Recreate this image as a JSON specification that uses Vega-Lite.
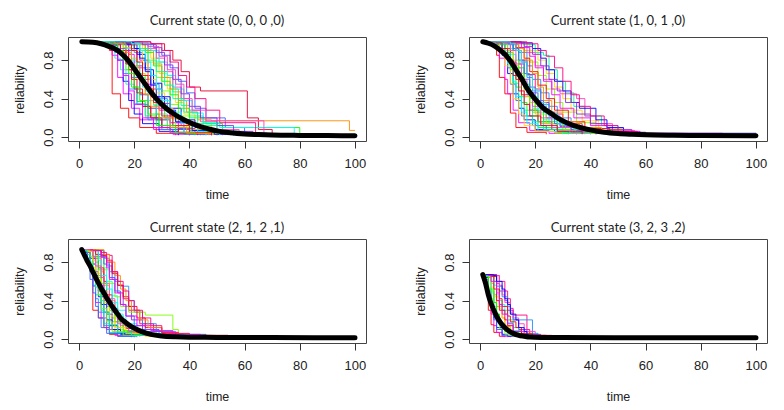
{
"$schema": "https://vega.github.io/schema/vega-lite/v6.json",
"padding": {"left": 12, "top": 14, "right": 0, "bottom": 0},
"background": "white",
"columns": 2,
"spacing": {"row": 20, "column": 46},
"config": {
  "font": "Liberation Sans",
  "view": {"stroke": "#444", "strokeWidth": 1},
  "axis": {"domain": false, "grid": false, "tickColor": "#333", "tickSize": 7, "labelFont": "Liberation Sans", "labelFontSize": 13, "labelColor": "#222", "titleFont": "Liberation Sans", "titleFontSize": 12.5, "titleFontWeight": "normal", "titleColor": "#222"},
  "axisX": {"labelPadding": 9, "titlePadding": 18, "labelFlush": false},
  "axisY": {"labelPadding": 6, "titlePadding": 16, "labelAngle": -90, "labelAlign": "center", "labelBaseline": "bottom"},
  "title": {"font": "Lato", "fontSize": 13, "fontWeight": "normal", "color": "#222", "offset": 4},
  "line": {"clip": true}
},
"datasets": {
"a": [
{"s":1,"t":1,"r":0.99},{"s":1,"t":9,"r":0.96},{"s":1,"t":11,"r":0.9},{"s":1,"t":12,"r":0.45},{"s":1,"t":15,"r":0.3},{"s":1,"t":18,"r":0.2},{"s":1,"t":22,"r":0.1},{"s":1,"t":28,"r":0.04},{"s":1,"t":35,"r":0.02},
{"s":2,"t":1,"r":0.99},{"s":2,"t":8,"r":0.97},{"s":2,"t":12,"r":0.85},{"s":2,"t":14,"r":0.62},{"s":2,"t":16,"r":0.45},{"s":2,"t":19,"r":0.3},{"s":2,"t":22,"r":0.18},{"s":2,"t":27,"r":0.08},{"s":2,"t":34,"r":0.03},{"s":2,"t":40,"r":0.02},
{"s":3,"t":1,"r":0.99},{"s":3,"t":10,"r":0.95},{"s":3,"t":14,"r":0.8},{"s":3,"t":16,"r":0.58},{"s":3,"t":18,"r":0.38},{"s":3,"t":20,"r":0.24},{"s":3,"t":23,"r":0.14},{"s":3,"t":29,"r":0.06},{"s":3,"t":36,"r":0.02},
{"s":4,"t":1,"r":0.99},{"s":4,"t":11,"r":0.96},{"s":4,"t":15,"r":0.86},{"s":4,"t":17,"r":0.7},{"s":4,"t":19,"r":0.52},{"s":4,"t":21,"r":0.37},{"s":4,"t":24,"r":0.22},{"s":4,"t":28,"r":0.12},{"s":4,"t":33,"r":0.05},{"s":4,"t":40,"r":0.02},
{"s":5,"t":1,"r":0.99},{"s":5,"t":12,"r":0.97},{"s":5,"t":16,"r":0.88},{"s":5,"t":18,"r":0.75},{"s":5,"t":20,"r":0.6},{"s":5,"t":22,"r":0.45},{"s":5,"t":25,"r":0.3},{"s":5,"t":28,"r":0.18},{"s":5,"t":32,"r":0.08},{"s":5,"t":38,"r":0.03},{"s":5,"t":45,"r":0.02},
{"s":6,"t":1,"r":0.99},{"s":6,"t":13,"r":0.96},{"s":6,"t":17,"r":0.9},{"s":6,"t":19,"r":0.78},{"s":6,"t":22,"r":0.62},{"s":6,"t":24,"r":0.48},{"s":6,"t":27,"r":0.33},{"s":6,"t":30,"r":0.2},{"s":6,"t":34,"r":0.1},{"s":6,"t":40,"r":0.04},{"s":6,"t":48,"r":0.02},
{"s":7,"t":1,"r":0.99},{"s":7,"t":14,"r":0.97},{"s":7,"t":18,"r":0.9},{"s":7,"t":21,"r":0.74},{"s":7,"t":23,"r":0.6},{"s":7,"t":26,"r":0.44},{"s":7,"t":28,"r":0.3},{"s":7,"t":31,"r":0.2},{"s":7,"t":36,"r":0.09},{"s":7,"t":42,"r":0.04},{"s":7,"t":50,"r":0.02},
{"s":8,"t":1,"r":0.99},{"s":8,"t":15,"r":0.97},{"s":8,"t":19,"r":0.92},{"s":8,"t":22,"r":0.8},{"s":8,"t":25,"r":0.64},{"s":8,"t":27,"r":0.5},{"s":8,"t":30,"r":0.35},{"s":8,"t":33,"r":0.22},{"s":8,"t":37,"r":0.12},{"s":8,"t":43,"r":0.05},{"s":8,"t":52,"r":0.02},
{"s":9,"t":1,"r":0.99},{"s":9,"t":16,"r":0.96},{"s":9,"t":20,"r":0.88},{"s":9,"t":23,"r":0.72},{"s":9,"t":26,"r":0.55},{"s":9,"t":29,"r":0.4},{"s":9,"t":32,"r":0.26},{"s":9,"t":35,"r":0.15},{"s":9,"t":40,"r":0.07},{"s":9,"t":47,"r":0.03},{"s":9,"t":55,"r":0.02},
{"s":10,"t":1,"r":0.99},{"s":10,"t":17,"r":0.97},{"s":10,"t":22,"r":0.9},{"s":10,"t":25,"r":0.78},{"s":10,"t":28,"r":0.62},{"s":10,"t":30,"r":0.48},{"s":10,"t":33,"r":0.34},{"s":10,"t":36,"r":0.22},{"s":10,"t":40,"r":0.12},{"s":10,"t":46,"r":0.05},{"s":10,"t":53,"r":0.02},
{"s":11,"t":1,"r":0.99},{"s":11,"t":18,"r":0.97},{"s":11,"t":23,"r":0.92},{"s":11,"t":26,"r":0.82},{"s":11,"t":29,"r":0.66},{"s":11,"t":32,"r":0.5},{"s":11,"t":35,"r":0.36},{"s":11,"t":38,"r":0.24},{"s":11,"t":42,"r":0.14},{"s":11,"t":48,"r":0.06},{"s":11,"t":56,"r":0.02},
{"s":12,"t":1,"r":0.99},{"s":12,"t":20,"r":0.97},{"s":12,"t":25,"r":0.9},{"s":12,"t":28,"r":0.78},{"s":12,"t":31,"r":0.62},{"s":12,"t":34,"r":0.47},{"s":12,"t":37,"r":0.33},{"s":12,"t":40,"r":0.22},{"s":12,"t":45,"r":0.12},{"s":12,"t":52,"r":0.05},{"s":12,"t":60,"r":0.02},
{"s":13,"t":1,"r":0.99},{"s":13,"t":20,"r":0.97},{"s":13,"t":25,"r":0.92},{"s":13,"t":28,"r":0.82},{"s":13,"t":31,"r":0.68},{"s":13,"t":34,"r":0.52},{"s":13,"t":37,"r":0.4},{"s":13,"t":40,"r":0.28},{"s":13,"t":44,"r":0.16},{"s":13,"t":50,"r":0.08},{"s":13,"t":58,"r":0.03},{"s":13,"t":64,"r":0.02},
{"s":14,"t":1,"r":0.99},{"s":14,"t":22,"r":0.97},{"s":14,"t":27,"r":0.93},{"s":14,"t":30,"r":0.85},{"s":14,"t":33,"r":0.72},{"s":14,"t":36,"r":0.58},{"s":14,"t":39,"r":0.46},{"s":14,"t":42,"r":0.3},{"s":14,"t":46,"r":0.2},{"s":14,"t":53,"r":0.1},{"s":14,"t":60,"r":0.04},{"s":14,"t":68,"r":0.02},
{"s":15,"t":1,"r":0.99},{"s":15,"t":26,"r":0.97},{"s":15,"t":31,"r":0.9},{"s":15,"t":34,"r":0.8},{"s":15,"t":37,"r":0.68},{"s":15,"t":40,"r":0.52},{"s":15,"t":44,"r":0.48},{"s":15,"t":61,"r":0.2},{"s":15,"t":65,"r":0.08},{"s":15,"t":70,"r":0.03},{"s":15,"t":72,"r":0.03},
{"s":16,"t":1,"r":0.99},{"s":16,"t":8,"r":0.97},{"s":16,"t":13,"r":0.82},{"s":16,"t":15,"r":0.7},{"s":16,"t":17,"r":0.55},{"s":16,"t":20,"r":0.35},{"s":16,"t":24,"r":0.2},{"s":16,"t":29,"r":0.1},{"s":16,"t":35,"r":0.04},{"s":16,"t":42,"r":0.02},
{"s":17,"t":1,"r":0.99},{"s":17,"t":12,"r":0.96},{"s":17,"t":15,"r":0.9},{"s":17,"t":18,"r":0.7},{"s":17,"t":20,"r":0.5},{"s":17,"t":23,"r":0.32},{"s":17,"t":26,"r":0.2},{"s":17,"t":30,"r":0.1},{"s":17,"t":36,"r":0.05},{"s":17,"t":44,"r":0.02},
{"s":18,"t":1,"r":0.99},{"s":18,"t":14,"r":0.97},{"s":18,"t":18,"r":0.86},{"s":18,"t":20,"r":0.72},{"s":18,"t":23,"r":0.55},{"s":18,"t":26,"r":0.42},{"s":18,"t":29,"r":0.28},{"s":18,"t":33,"r":0.15},{"s":18,"t":38,"r":0.08},{"s":18,"t":45,"r":0.03},{"s":18,"t":54,"r":0.02},
{"s":19,"t":1,"r":0.99},{"s":19,"t":17,"r":0.96},{"s":19,"t":21,"r":0.86},{"s":19,"t":24,"r":0.7},{"s":19,"t":27,"r":0.56},{"s":19,"t":30,"r":0.42},{"s":19,"t":33,"r":0.3},{"s":19,"t":37,"r":0.18},{"s":19,"t":42,"r":0.1},{"s":19,"t":48,"r":0.05},{"s":19,"t":57,"r":0.02},
{"s":20,"t":1,"r":0.99},{"s":20,"t":19,"r":0.97},{"s":20,"t":24,"r":0.88},{"s":20,"t":27,"r":0.74},{"s":20,"t":30,"r":0.58},{"s":20,"t":33,"r":0.44},{"s":20,"t":36,"r":0.3},{"s":20,"t":40,"r":0.2},{"s":20,"t":46,"r":0.14},{"s":20,"t":52,"r":0.1},{"s":20,"t":80,"r":0.02},{"s":20,"t":82,"r":0.02},
{"s":21,"t":1,"r":0.99},{"s":21,"t":19,"r":0.96},{"s":21,"t":24,"r":0.9},{"s":21,"t":27,"r":0.76},{"s":21,"t":30,"r":0.62},{"s":21,"t":33,"r":0.5},{"s":21,"t":36,"r":0.38},{"s":21,"t":39,"r":0.26},{"s":21,"t":43,"r":0.18},{"s":21,"t":48,"r":0.17},{"s":21,"t":98,"r":0.07},{"s":21,"t":100,"r":0.07},
{"s":22,"t":1,"r":0.99},{"s":22,"t":21,"r":0.97},{"s":22,"t":26,"r":0.9},{"s":22,"t":29,"r":0.78},{"s":22,"t":32,"r":0.64},{"s":22,"t":35,"r":0.5},{"s":22,"t":38,"r":0.38},{"s":22,"t":41,"r":0.25},{"s":22,"t":45,"r":0.15},{"s":22,"t":51,"r":0.1},{"s":22,"t":78,"r":0.02},{"s":22,"t":79,"r":0.02},
{"s":23,"t":1,"r":0.99},{"s":23,"t":23,"r":0.96},{"s":23,"t":28,"r":0.88},{"s":23,"t":31,"r":0.75},{"s":23,"t":34,"r":0.6},{"s":23,"t":37,"r":0.45},{"s":23,"t":40,"r":0.32},{"s":23,"t":44,"r":0.2},{"s":23,"t":50,"r":0.12},{"s":23,"t":56,"r":0.06},{"s":23,"t":63,"r":0.02},
{"s":24,"t":1,"r":0.99},{"s":24,"t":26,"r":0.97},{"s":24,"t":30,"r":0.9},{"s":24,"t":33,"r":0.78},{"s":24,"t":36,"r":0.64},{"s":24,"t":39,"r":0.52},{"s":24,"t":42,"r":0.4},{"s":24,"t":46,"r":0.28},{"s":24,"t":51,"r":0.15},{"s":24,"t":64,"r":0.03},{"s":24,"t":66,"r":0.02},
{"s":25,"t":1,"r":0.99},{"s":25,"t":10,"r":0.97},{"s":25,"t":13,"r":0.88},{"s":25,"t":16,"r":0.66},{"s":25,"t":18,"r":0.5},{"s":25,"t":21,"r":0.34},{"s":25,"t":25,"r":0.18},{"s":25,"t":30,"r":0.08},{"s":25,"t":38,"r":0.03},{"s":25,"t":46,"r":0.02},
{"s":26,"t":1,"r":0.99},{"s":26,"t":13,"r":0.98},{"s":26,"t":16,"r":0.93},{"s":26,"t":19,"r":0.82},{"s":26,"t":21,"r":0.66},{"s":26,"t":24,"r":0.5},{"s":26,"t":27,"r":0.34},{"s":26,"t":31,"r":0.2},{"s":26,"t":35,"r":0.1},{"s":26,"t":41,"r":0.04},{"s":26,"t":50,"r":0.02},
{"s":27,"t":1,"r":0.99},{"s":27,"t":15,"r":0.98},{"s":27,"t":20,"r":0.9},{"s":27,"t":23,"r":0.76},{"s":27,"t":25,"r":0.6},{"s":27,"t":28,"r":0.46},{"s":27,"t":31,"r":0.3},{"s":27,"t":34,"r":0.18},{"s":27,"t":39,"r":0.08},{"s":27,"t":46,"r":0.03},{"s":27,"t":55,"r":0.02},
{"s":28,"t":1,"r":0.99},{"s":28,"t":18,"r":0.98},{"s":28,"t":22,"r":0.92},{"s":28,"t":25,"r":0.8},{"s":28,"t":28,"r":0.68},{"s":28,"t":31,"r":0.54},{"s":28,"t":34,"r":0.4},{"s":28,"t":38,"r":0.26},{"s":28,"t":43,"r":0.14},{"s":28,"t":50,"r":0.06},{"s":28,"t":58,"r":0.02},
{"s":29,"t":1,"r":0.99},{"s":29,"t":20,"r":0.98},{"s":29,"t":25,"r":0.94},{"s":29,"t":29,"r":0.84},{"s":29,"t":32,"r":0.7},{"s":29,"t":35,"r":0.55},{"s":29,"t":38,"r":0.4},{"s":29,"t":41,"r":0.28},{"s":29,"t":46,"r":0.17},{"s":29,"t":67,"r":0.03},{"s":29,"t":72,"r":0.02},
{"s":30,"t":1,"r":0.99},{"s":30,"t":11,"r":0.98},{"s":30,"t":14,"r":0.92},{"s":30,"t":17,"r":0.78},{"s":30,"t":19,"r":0.62},{"s":30,"t":22,"r":0.44},{"s":30,"t":25,"r":0.3},{"s":30,"t":28,"r":0.18},{"s":30,"t":33,"r":0.08},{"s":30,"t":40,"r":0.03},{"s":30,"t":48,"r":0.02},
{"s":31,"t":1,"r":0.99},{"s":31,"t":12,"r":0.97},{"s":31,"t":15,"r":0.9},{"s":31,"t":17,"r":0.76},{"s":31,"t":19,"r":0.6},{"s":31,"t":21,"r":0.46},{"s":31,"t":23,"r":0.32},{"s":31,"t":26,"r":0.2},{"s":31,"t":30,"r":0.1},{"s":31,"t":36,"r":0.04},{"s":31,"t":43,"r":0.02},
{"s":32,"t":1,"r":0.99},{"s":32,"t":14,"r":0.98},{"s":32,"t":17,"r":0.92},{"s":32,"t":19,"r":0.8},{"s":32,"t":21,"r":0.66},{"s":32,"t":23,"r":0.52},{"s":32,"t":25,"r":0.38},{"s":32,"t":28,"r":0.24},{"s":32,"t":32,"r":0.12},{"s":32,"t":38,"r":0.05},{"s":32,"t":46,"r":0.02},
{"s":33,"t":1,"r":0.99},{"s":33,"t":16,"r":0.97},{"s":33,"t":19,"r":0.9},{"s":33,"t":21,"r":0.78},{"s":33,"t":23,"r":0.64},{"s":33,"t":25,"r":0.5},{"s":33,"t":27,"r":0.36},{"s":33,"t":30,"r":0.22},{"s":33,"t":34,"r":0.12},{"s":33,"t":40,"r":0.05},{"s":33,"t":48,"r":0.02},
{"s":34,"t":1,"r":0.99},{"s":34,"t":9,"r":0.98},{"s":34,"t":12,"r":0.92},{"s":34,"t":14,"r":0.8},{"s":34,"t":16,"r":0.64},{"s":34,"t":18,"r":0.48},{"s":34,"t":20,"r":0.34},{"s":34,"t":23,"r":0.2},{"s":34,"t":27,"r":0.1},{"s":34,"t":33,"r":0.04},{"s":34,"t":40,"r":0.02},
{"s":35,"t":1,"r":0.99},{"s":35,"t":17,"r":0.98},{"s":35,"t":20,"r":0.92},{"s":35,"t":22,"r":0.82},{"s":35,"t":24,"r":0.68},{"s":35,"t":26,"r":0.54},{"s":35,"t":28,"r":0.42},{"s":35,"t":31,"r":0.28},{"s":35,"t":35,"r":0.16},{"s":35,"t":41,"r":0.07},{"s":35,"t":49,"r":0.03},{"s":35,"t":56,"r":0.02},
{"s":36,"t":1,"r":0.99},{"s":36,"t":11,"r":0.97},{"s":36,"t":14,"r":0.9},{"s":36,"t":16,"r":0.8},{"s":36,"t":18,"r":0.66},{"s":36,"t":20,"r":0.52},{"s":36,"t":22,"r":0.38},{"s":36,"t":25,"r":0.24},{"s":36,"t":29,"r":0.12},{"s":36,"t":35,"r":0.05},{"s":36,"t":42,"r":0.02},
{"s":37,"t":1,"r":0.99},{"s":37,"t":13,"r":0.97},{"s":37,"t":17,"r":0.88},{"s":37,"t":19,"r":0.74},{"s":37,"t":22,"r":0.58},{"s":37,"t":24,"r":0.44},{"s":37,"t":26,"r":0.32},{"s":37,"t":29,"r":0.2},{"s":37,"t":33,"r":0.1},{"s":37,"t":39,"r":0.04},{"s":37,"t":47,"r":0.02},
{"s":38,"t":1,"r":0.99},{"s":38,"t":19,"r":0.97},{"s":38,"t":22,"r":0.9},{"s":38,"t":24,"r":0.78},{"s":38,"t":26,"r":0.64},{"s":38,"t":28,"r":0.5},{"s":38,"t":30,"r":0.38},{"s":38,"t":33,"r":0.26},{"s":38,"t":37,"r":0.14},{"s":38,"t":43,"r":0.06},{"s":38,"t":51,"r":0.02}
],
"b": [
{"s":1,"t":1,"r":0.99},{"s":1,"t":4,"r":0.95},{"s":1,"t":6,"r":0.85},{"s":1,"t":7,"r":0.62},{"s":1,"t":9,"r":0.45},{"s":1,"t":11,"r":0.25},{"s":1,"t":13,"r":0.1},{"s":1,"t":17,"r":0.05},{"s":1,"t":24,"r":0.03},
{"s":2,"t":1,"r":0.99},{"s":2,"t":5,"r":0.96},{"s":2,"t":7,"r":0.82},{"s":2,"t":9,"r":0.6},{"s":2,"t":10,"r":0.45},{"s":2,"t":12,"r":0.28},{"s":2,"t":14,"r":0.15},{"s":2,"t":18,"r":0.07},{"s":2,"t":25,"r":0.04},{"s":2,"t":32,"r":0.03},
{"s":3,"t":1,"r":0.99},{"s":3,"t":6,"r":0.97},{"s":3,"t":8,"r":0.85},{"s":3,"t":10,"r":0.66},{"s":3,"t":12,"r":0.45},{"s":3,"t":14,"r":0.3},{"s":3,"t":16,"r":0.18},{"s":3,"t":20,"r":0.08},{"s":3,"t":27,"r":0.04},{"s":3,"t":35,"r":0.03},
{"s":4,"t":1,"r":0.99},{"s":4,"t":6,"r":0.96},{"s":4,"t":9,"r":0.86},{"s":4,"t":11,"r":0.7},{"s":4,"t":13,"r":0.52},{"s":4,"t":15,"r":0.36},{"s":4,"t":17,"r":0.22},{"s":4,"t":21,"r":0.1},{"s":4,"t":28,"r":0.05},{"s":4,"t":38,"r":0.03},
{"s":5,"t":1,"r":0.99},{"s":5,"t":7,"r":0.97},{"s":5,"t":10,"r":0.88},{"s":5,"t":12,"r":0.74},{"s":5,"t":14,"r":0.58},{"s":5,"t":16,"r":0.42},{"s":5,"t":19,"r":0.26},{"s":5,"t":22,"r":0.14},{"s":5,"t":28,"r":0.07},{"s":5,"t":36,"r":0.04},{"s":5,"t":45,"r":0.03},
{"s":6,"t":1,"r":0.99},{"s":6,"t":8,"r":0.96},{"s":6,"t":11,"r":0.86},{"s":6,"t":13,"r":0.72},{"s":6,"t":15,"r":0.58},{"s":6,"t":17,"r":0.44},{"s":6,"t":19,"r":0.3},{"s":6,"t":23,"r":0.18},{"s":6,"t":28,"r":0.1},{"s":6,"t":35,"r":0.05},{"s":6,"t":44,"r":0.03},
{"s":7,"t":1,"r":0.99},{"s":7,"t":9,"r":0.97},{"s":7,"t":12,"r":0.9},{"s":7,"t":14,"r":0.76},{"s":7,"t":16,"r":0.6},{"s":7,"t":18,"r":0.46},{"s":7,"t":21,"r":0.32},{"s":7,"t":24,"r":0.2},{"s":7,"t":29,"r":0.11},{"s":7,"t":36,"r":0.06},{"s":7,"t":48,"r":0.03},
{"s":8,"t":1,"r":0.99},{"s":8,"t":10,"r":0.97},{"s":8,"t":13,"r":0.9},{"s":8,"t":15,"r":0.8},{"s":8,"t":17,"r":0.65},{"s":8,"t":20,"r":0.5},{"s":8,"t":22,"r":0.36},{"s":8,"t":25,"r":0.24},{"s":8,"t":30,"r":0.14},{"s":8,"t":37,"r":0.07},{"s":8,"t":46,"r":0.04},{"s":8,"t":55,"r":0.03},
{"s":9,"t":1,"r":0.99},{"s":9,"t":11,"r":0.96},{"s":9,"t":14,"r":0.88},{"s":9,"t":17,"r":0.74},{"s":9,"t":19,"r":0.6},{"s":9,"t":22,"r":0.46},{"s":9,"t":25,"r":0.32},{"s":9,"t":28,"r":0.2},{"s":9,"t":33,"r":0.1},{"s":9,"t":40,"r":0.05},{"s":9,"t":52,"r":0.03},
{"s":10,"t":1,"r":0.99},{"s":10,"t":12,"r":0.97},{"s":10,"t":16,"r":0.9},{"s":10,"t":18,"r":0.78},{"s":10,"t":21,"r":0.64},{"s":10,"t":24,"r":0.5},{"s":10,"t":27,"r":0.36},{"s":10,"t":30,"r":0.26},{"s":10,"t":35,"r":0.15},{"s":10,"t":42,"r":0.07},{"s":10,"t":50,"r":0.04},{"s":10,"t":60,"r":0.03},
{"s":11,"t":1,"r":0.99},{"s":11,"t":14,"r":0.97},{"s":11,"t":18,"r":0.9},{"s":11,"t":21,"r":0.8},{"s":11,"t":24,"r":0.66},{"s":11,"t":27,"r":0.52},{"s":11,"t":30,"r":0.4},{"s":11,"t":33,"r":0.28},{"s":11,"t":37,"r":0.17},{"s":11,"t":43,"r":0.09},{"s":11,"t":52,"r":0.05},{"s":11,"t":60,"r":0.03},
{"s":12,"t":1,"r":0.99},{"s":12,"t":16,"r":0.96},{"s":12,"t":20,"r":0.88},{"s":12,"t":23,"r":0.85},{"s":12,"t":25,"r":0.7},{"s":12,"t":28,"r":0.58},{"s":12,"t":31,"r":0.46},{"s":12,"t":34,"r":0.32},{"s":12,"t":38,"r":0.22},{"s":12,"t":44,"r":0.12},{"s":12,"t":50,"r":0.06},{"s":12,"t":57,"r":0.04},
{"s":13,"t":1,"r":0.99},{"s":13,"t":13,"r":0.97},{"s":13,"t":17,"r":0.88},{"s":13,"t":20,"r":0.74},{"s":13,"t":23,"r":0.6},{"s":13,"t":26,"r":0.5},{"s":13,"t":29,"r":0.45},{"s":13,"t":35,"r":0.4},{"s":13,"t":38,"r":0.22},{"s":13,"t":42,"r":0.14},{"s":13,"t":48,"r":0.07},{"s":13,"t":56,"r":0.04},
{"s":14,"t":1,"r":0.99},{"s":14,"t":5,"r":0.97},{"s":14,"t":8,"r":0.88},{"s":14,"t":10,"r":0.72},{"s":14,"t":11,"r":0.55},{"s":14,"t":13,"r":0.38},{"s":14,"t":15,"r":0.22},{"s":14,"t":19,"r":0.12},{"s":14,"t":24,"r":0.06},{"s":14,"t":32,"r":0.04},{"s":14,"t":40,"r":0.03},
{"s":15,"t":1,"r":0.99},{"s":15,"t":7,"r":0.98},{"s":15,"t":9,"r":0.92},{"s":15,"t":11,"r":0.78},{"s":15,"t":13,"r":0.6},{"s":15,"t":15,"r":0.44},{"s":15,"t":18,"r":0.28},{"s":15,"t":21,"r":0.16},{"s":15,"t":26,"r":0.08},{"s":15,"t":34,"r":0.04},{"s":15,"t":42,"r":0.03},
{"s":16,"t":1,"r":0.99},{"s":16,"t":8,"r":0.98},{"s":16,"t":11,"r":0.92},{"s":16,"t":14,"r":0.78},{"s":16,"t":16,"r":0.6},{"s":16,"t":18,"r":0.42},{"s":16,"t":21,"r":0.26},{"s":16,"t":25,"r":0.14},{"s":16,"t":31,"r":0.07},{"s":16,"t":40,"r":0.04},{"s":16,"t":100,"r":0.04},
{"s":17,"t":1,"r":0.99},{"s":17,"t":10,"r":0.98},{"s":17,"t":13,"r":0.93},{"s":17,"t":16,"r":0.82},{"s":17,"t":18,"r":0.68},{"s":17,"t":21,"r":0.54},{"s":17,"t":24,"r":0.4},{"s":17,"t":27,"r":0.28},{"s":17,"t":32,"r":0.16},{"s":17,"t":38,"r":0.09},{"s":17,"t":47,"r":0.05},{"s":17,"t":58,"r":0.03},
{"s":18,"t":1,"r":0.99},{"s":18,"t":12,"r":0.98},{"s":18,"t":15,"r":0.93},{"s":18,"t":18,"r":0.84},{"s":18,"t":20,"r":0.72},{"s":18,"t":23,"r":0.58},{"s":18,"t":26,"r":0.44},{"s":18,"t":29,"r":0.3},{"s":18,"t":34,"r":0.2},{"s":18,"t":40,"r":0.12},{"s":18,"t":48,"r":0.06},{"s":18,"t":58,"r":0.04},{"s":18,"t":88,"r":0.04},
{"s":19,"t":1,"r":0.99},{"s":19,"t":15,"r":0.98},{"s":19,"t":19,"r":0.92},{"s":19,"t":22,"r":0.82},{"s":19,"t":24,"r":0.7},{"s":19,"t":27,"r":0.58},{"s":19,"t":30,"r":0.48},{"s":19,"t":33,"r":0.36},{"s":19,"t":36,"r":0.3},{"s":19,"t":42,"r":0.18},{"s":19,"t":46,"r":0.1},{"s":19,"t":52,"r":0.05},{"s":19,"t":60,"r":0.03},
{"s":20,"t":1,"r":0.99},{"s":20,"t":9,"r":0.98},{"s":20,"t":12,"r":0.9},{"s":20,"t":14,"r":0.72},{"s":20,"t":16,"r":0.55},{"s":20,"t":18,"r":0.4},{"s":20,"t":20,"r":0.28},{"s":20,"t":23,"r":0.16},{"s":20,"t":28,"r":0.08},{"s":20,"t":36,"r":0.04},{"s":20,"t":46,"r":0.03},
{"s":21,"t":1,"r":0.99},{"s":21,"t":11,"r":0.98},{"s":21,"t":14,"r":0.92},{"s":21,"t":16,"r":0.8},{"s":21,"t":19,"r":0.66},{"s":21,"t":21,"r":0.52},{"s":21,"t":23,"r":0.38},{"s":21,"t":26,"r":0.26},{"s":21,"t":30,"r":0.16},{"s":21,"t":36,"r":0.1},{"s":21,"t":44,"r":0.06},{"s":21,"t":52,"r":0.04},{"s":21,"t":64,"r":0.03},
{"s":22,"t":1,"r":0.99},{"s":22,"t":6,"r":0.98},{"s":22,"t":8,"r":0.9},{"s":22,"t":10,"r":0.76},{"s":22,"t":12,"r":0.58},{"s":22,"t":13,"r":0.42},{"s":22,"t":15,"r":0.26},{"s":22,"t":17,"r":0.14},{"s":22,"t":21,"r":0.06},{"s":22,"t":30,"r":0.03},
{"s":23,"t":1,"r":0.99},{"s":23,"t":13,"r":0.98},{"s":23,"t":16,"r":0.94},{"s":23,"t":19,"r":0.86},{"s":23,"t":22,"r":0.74},{"s":23,"t":25,"r":0.6},{"s":23,"t":28,"r":0.48},{"s":23,"t":31,"r":0.36},{"s":23,"t":35,"r":0.24},{"s":23,"t":40,"r":0.14},{"s":23,"t":46,"r":0.08},{"s":23,"t":55,"r":0.04},{"s":23,"t":100,"r":0.03},
{"s":24,"t":1,"r":0.99},{"s":24,"t":17,"r":0.97},{"s":24,"t":21,"r":0.9},{"s":24,"t":24,"r":0.84},{"s":24,"t":27,"r":0.72},{"s":24,"t":30,"r":0.58},{"s":24,"t":33,"r":0.44},{"s":24,"t":36,"r":0.32},{"s":24,"t":40,"r":0.22},{"s":24,"t":45,"r":0.12},{"s":24,"t":50,"r":0.06},{"s":24,"t":57,"r":0.03},
{"s":25,"t":1,"r":0.99},{"s":25,"t":10,"r":0.97},{"s":25,"t":12,"r":0.9},{"s":25,"t":15,"r":0.78},{"s":25,"t":17,"r":0.62},{"s":25,"t":19,"r":0.48},{"s":25,"t":22,"r":0.34},{"s":25,"t":25,"r":0.22},{"s":25,"t":29,"r":0.12},{"s":25,"t":35,"r":0.07},{"s":25,"t":42,"r":0.04},{"s":25,"t":50,"r":0.03},
{"s":26,"t":1,"r":0.99},{"s":26,"t":8,"r":0.97},{"s":26,"t":10,"r":0.9},{"s":26,"t":12,"r":0.8},{"s":26,"t":14,"r":0.66},{"s":26,"t":16,"r":0.5},{"s":26,"t":18,"r":0.36},{"s":26,"t":20,"r":0.24},{"s":26,"t":24,"r":0.14},{"s":26,"t":30,"r":0.08},{"s":26,"t":38,"r":0.04},{"s":26,"t":48,"r":0.03},
{"s":27,"t":1,"r":0.99},{"s":27,"t":5,"r":0.98},{"s":27,"t":7,"r":0.9},{"s":27,"t":9,"r":0.74},{"s":27,"t":11,"r":0.56},{"s":27,"t":12,"r":0.4},{"s":27,"t":14,"r":0.24},{"s":27,"t":16,"r":0.12},{"s":27,"t":20,"r":0.06},{"s":27,"t":27,"r":0.04},{"s":27,"t":36,"r":0.03},
{"s":28,"t":1,"r":0.99},{"s":28,"t":7,"r":0.97},{"s":28,"t":9,"r":0.88},{"s":28,"t":11,"r":0.72},{"s":28,"t":12,"r":0.56},{"s":28,"t":14,"r":0.42},{"s":28,"t":16,"r":0.28},{"s":28,"t":19,"r":0.16},{"s":28,"t":23,"r":0.08},{"s":28,"t":30,"r":0.04},{"s":28,"t":40,"r":0.03},
{"s":29,"t":1,"r":0.99},{"s":29,"t":9,"r":0.97},{"s":29,"t":11,"r":0.9},{"s":29,"t":13,"r":0.76},{"s":29,"t":15,"r":0.6},{"s":29,"t":17,"r":0.46},{"s":29,"t":19,"r":0.32},{"s":29,"t":22,"r":0.2},{"s":29,"t":26,"r":0.1},{"s":29,"t":33,"r":0.05},{"s":29,"t":42,"r":0.03},
{"s":30,"t":1,"r":0.99},{"s":30,"t":10,"r":0.98},{"s":30,"t":12,"r":0.92},{"s":30,"t":14,"r":0.8},{"s":30,"t":16,"r":0.66},{"s":30,"t":18,"r":0.52},{"s":30,"t":20,"r":0.38},{"s":30,"t":23,"r":0.26},{"s":30,"t":27,"r":0.14},{"s":30,"t":33,"r":0.08},{"s":30,"t":42,"r":0.04},{"s":30,"t":52,"r":0.03},
{"s":31,"t":1,"r":0.99},{"s":31,"t":6,"r":0.98},{"s":31,"t":8,"r":0.92},{"s":31,"t":10,"r":0.8},{"s":31,"t":12,"r":0.64},{"s":31,"t":14,"r":0.48},{"s":31,"t":16,"r":0.34},{"s":31,"t":18,"r":0.22},{"s":31,"t":22,"r":0.12},{"s":31,"t":28,"r":0.06},{"s":31,"t":37,"r":0.03},
{"s":32,"t":1,"r":0.99},{"s":32,"t":11,"r":0.97},{"s":32,"t":13,"r":0.9},{"s":32,"t":15,"r":0.78},{"s":32,"t":17,"r":0.64},{"s":32,"t":19,"r":0.5},{"s":32,"t":21,"r":0.36},{"s":32,"t":24,"r":0.24},{"s":32,"t":28,"r":0.14},{"s":32,"t":34,"r":0.08},{"s":32,"t":43,"r":0.04},{"s":32,"t":56,"r":0.03}
],
"c": [
{"s":1,"t":1,"r":0.93},{"s":1,"t":3,"r":0.9},{"s":1,"t":4,"r":0.7},{"s":1,"t":5,"r":0.3},{"s":1,"t":7,"r":0.22},{"s":1,"t":9,"r":0.12},{"s":1,"t":11,"r":0.05},{"s":1,"t":14,"r":0.03},{"s":1,"t":20,"r":0.02},
{"s":2,"t":1,"r":0.93},{"s":2,"t":2,"r":0.9},{"s":2,"t":4,"r":0.75},{"s":2,"t":5,"r":0.55},{"s":2,"t":6,"r":0.38},{"s":2,"t":8,"r":0.22},{"s":2,"t":10,"r":0.1},{"s":2,"t":13,"r":0.04},{"s":2,"t":18,"r":0.03},
{"s":3,"t":1,"r":0.93},{"s":3,"t":3,"r":0.91},{"s":3,"t":5,"r":0.78},{"s":3,"t":6,"r":0.6},{"s":3,"t":7,"r":0.44},{"s":3,"t":9,"r":0.28},{"s":3,"t":11,"r":0.14},{"s":3,"t":14,"r":0.06},{"s":3,"t":19,"r":0.03},
{"s":4,"t":1,"r":0.93},{"s":4,"t":3,"r":0.92},{"s":4,"t":5,"r":0.84},{"s":4,"t":7,"r":0.66},{"s":4,"t":8,"r":0.5},{"s":4,"t":10,"r":0.34},{"s":4,"t":12,"r":0.18},{"s":4,"t":15,"r":0.08},{"s":4,"t":20,"r":0.04},{"s":4,"t":26,"r":0.03},
{"s":5,"t":1,"r":0.93},{"s":5,"t":4,"r":0.92},{"s":5,"t":6,"r":0.84},{"s":5,"t":8,"r":0.7},{"s":5,"t":9,"r":0.56},{"s":5,"t":11,"r":0.4},{"s":5,"t":13,"r":0.24},{"s":5,"t":16,"r":0.12},{"s":5,"t":20,"r":0.06},{"s":5,"t":27,"r":0.03},
{"s":6,"t":1,"r":0.93},{"s":6,"t":4,"r":0.92},{"s":6,"t":7,"r":0.86},{"s":6,"t":9,"r":0.74},{"s":6,"t":10,"r":0.6},{"s":6,"t":12,"r":0.45},{"s":6,"t":14,"r":0.3},{"s":6,"t":17,"r":0.16},{"s":6,"t":21,"r":0.08},{"s":6,"t":28,"r":0.04},{"s":6,"t":36,"r":0.03},
{"s":7,"t":1,"r":0.93},{"s":7,"t":5,"r":0.92},{"s":7,"t":8,"r":0.86},{"s":7,"t":10,"r":0.76},{"s":7,"t":12,"r":0.62},{"s":7,"t":14,"r":0.48},{"s":7,"t":16,"r":0.34},{"s":7,"t":19,"r":0.2},{"s":7,"t":23,"r":0.1},{"s":7,"t":29,"r":0.05},{"s":7,"t":38,"r":0.03},
{"s":8,"t":1,"r":0.93},{"s":8,"t":6,"r":0.92},{"s":8,"t":9,"r":0.88},{"s":8,"t":11,"r":0.87},{"s":8,"t":12,"r":0.7},{"s":8,"t":14,"r":0.56},{"s":8,"t":16,"r":0.42},{"s":8,"t":18,"r":0.3},{"s":8,"t":22,"r":0.16},{"s":8,"t":27,"r":0.08},{"s":8,"t":34,"r":0.04},{"s":8,"t":42,"r":0.03},
{"s":9,"t":1,"r":0.93},{"s":9,"t":5,"r":0.92},{"s":9,"t":9,"r":0.84},{"s":9,"t":11,"r":0.7},{"s":9,"t":13,"r":0.6},{"s":9,"t":15,"r":0.55},{"s":9,"t":18,"r":0.4},{"s":9,"t":20,"r":0.28},{"s":9,"t":23,"r":0.16},{"s":9,"t":28,"r":0.08},{"s":9,"t":35,"r":0.05},{"s":9,"t":46,"r":0.04},
{"s":10,"t":1,"r":0.93},{"s":10,"t":4,"r":0.92},{"s":10,"t":7,"r":0.85},{"s":10,"t":9,"r":0.72},{"s":10,"t":11,"r":0.58},{"s":10,"t":13,"r":0.44},{"s":10,"t":15,"r":0.34},{"s":10,"t":18,"r":0.28},{"s":10,"t":24,"r":0.25},{"s":10,"t":34,"r":0.1},{"s":10,"t":36,"r":0.05},{"s":10,"t":40,"r":0.04},
{"s":11,"t":1,"r":0.93},{"s":11,"t":3,"r":0.92},{"s":11,"t":5,"r":0.82},{"s":11,"t":6,"r":0.68},{"s":11,"t":8,"r":0.52},{"s":11,"t":9,"r":0.38},{"s":11,"t":11,"r":0.22},{"s":11,"t":13,"r":0.1},{"s":11,"t":17,"r":0.05},{"s":11,"t":24,"r":0.03},{"s":11,"t":75,"r":0.03},
{"s":12,"t":1,"r":0.93},{"s":12,"t":2,"r":0.92},{"s":12,"t":4,"r":0.8},{"s":12,"t":5,"r":0.64},{"s":12,"t":6,"r":0.46},{"s":12,"t":8,"r":0.3},{"s":12,"t":9,"r":0.16},{"s":12,"t":11,"r":0.07},{"s":12,"t":15,"r":0.03},{"s":12,"t":20,"r":0.02},
{"s":13,"t":1,"r":0.93},{"s":13,"t":4,"r":0.93},{"s":13,"t":6,"r":0.86},{"s":13,"t":8,"r":0.72},{"s":13,"t":9,"r":0.58},{"s":13,"t":11,"r":0.42},{"s":13,"t":13,"r":0.27},{"s":13,"t":15,"r":0.14},{"s":13,"t":19,"r":0.07},{"s":13,"t":25,"r":0.04},{"s":13,"t":33,"r":0.03},
{"s":14,"t":1,"r":0.93},{"s":14,"t":5,"r":0.93},{"s":14,"t":7,"r":0.88},{"s":14,"t":9,"r":0.78},{"s":14,"t":11,"r":0.64},{"s":14,"t":13,"r":0.5},{"s":14,"t":15,"r":0.36},{"s":14,"t":17,"r":0.24},{"s":14,"t":20,"r":0.14},{"s":14,"t":24,"r":0.08},{"s":14,"t":30,"r":0.05},{"s":14,"t":38,"r":0.03},
{"s":15,"t":1,"r":0.93},{"s":15,"t":6,"r":0.92},{"s":15,"t":8,"r":0.87},{"s":15,"t":10,"r":0.8},{"s":15,"t":12,"r":0.68},{"s":15,"t":14,"r":0.56},{"s":15,"t":16,"r":0.44},{"s":15,"t":18,"r":0.34},{"s":15,"t":21,"r":0.22},{"s":15,"t":24,"r":0.12},{"s":15,"t":30,"r":0.06},{"s":15,"t":40,"r":0.04},{"s":15,"t":54,"r":0.04},
{"s":16,"t":1,"r":0.93},{"s":16,"t":3,"r":0.92},{"s":16,"t":6,"r":0.8},{"s":16,"t":7,"r":0.64},{"s":16,"t":9,"r":0.5},{"s":16,"t":10,"r":0.36},{"s":16,"t":12,"r":0.22},{"s":16,"t":14,"r":0.12},{"s":16,"t":18,"r":0.06},{"s":16,"t":24,"r":0.04},{"s":16,"t":31,"r":0.03},
{"s":17,"t":1,"r":0.93},{"s":17,"t":4,"r":0.92},{"s":17,"t":6,"r":0.88},{"s":17,"t":7,"r":0.74},{"s":17,"t":9,"r":0.6},{"s":17,"t":10,"r":0.46},{"s":17,"t":12,"r":0.32},{"s":17,"t":14,"r":0.2},{"s":17,"t":17,"r":0.11},{"s":17,"t":21,"r":0.06},{"s":17,"t":28,"r":0.04},{"s":17,"t":46,"r":0.04},
{"s":18,"t":1,"r":0.93},{"s":18,"t":5,"r":0.92},{"s":18,"t":8,"r":0.85},{"s":18,"t":10,"r":0.74},{"s":18,"t":11,"r":0.62},{"s":18,"t":13,"r":0.48},{"s":18,"t":15,"r":0.36},{"s":18,"t":17,"r":0.24},{"s":18,"t":21,"r":0.14},{"s":18,"t":26,"r":0.09},{"s":18,"t":34,"r":0.05},{"s":18,"t":44,"r":0.04},
{"s":19,"t":1,"r":0.93},{"s":19,"t":2,"r":0.92},{"s":19,"t":4,"r":0.84},{"s":19,"t":6,"r":0.66},{"s":19,"t":7,"r":0.5},{"s":19,"t":8,"r":0.36},{"s":19,"t":10,"r":0.2},{"s":19,"t":12,"r":0.1},{"s":19,"t":15,"r":0.05},{"s":19,"t":22,"r":0.03},
{"s":20,"t":1,"r":0.93},{"s":20,"t":3,"r":0.92},{"s":20,"t":5,"r":0.86},{"s":20,"t":7,"r":0.72},{"s":20,"t":8,"r":0.58},{"s":20,"t":10,"r":0.42},{"s":20,"t":11,"r":0.3},{"s":20,"t":13,"r":0.18},{"s":20,"t":16,"r":0.09},{"s":20,"t":20,"r":0.05},{"s":20,"t":28,"r":0.03},
{"s":21,"t":1,"r":0.93},{"s":21,"t":6,"r":0.93},{"s":21,"t":9,"r":0.88},{"s":21,"t":11,"r":0.8},{"s":21,"t":13,"r":0.66},{"s":21,"t":15,"r":0.52},{"s":21,"t":17,"r":0.4},{"s":21,"t":19,"r":0.3},{"s":21,"t":22,"r":0.2},{"s":21,"t":25,"r":0.12},{"s":21,"t":30,"r":0.07},{"s":21,"t":36,"r":0.05},
{"s":22,"t":1,"r":0.93},{"s":22,"t":4,"r":0.92},{"s":22,"t":7,"r":0.82},{"s":22,"t":8,"r":0.66},{"s":22,"t":10,"r":0.52},{"s":22,"t":12,"r":0.38},{"s":22,"t":14,"r":0.26},{"s":22,"t":16,"r":0.16},{"s":22,"t":19,"r":0.1},{"s":22,"t":23,"r":0.06},{"s":22,"t":30,"r":0.04},{"s":22,"t":40,"r":0.03},
{"s":23,"t":1,"r":0.93},{"s":23,"t":3,"r":0.92},{"s":23,"t":5,"r":0.84},{"s":23,"t":6,"r":0.7},{"s":23,"t":7,"r":0.56},{"s":23,"t":9,"r":0.4},{"s":23,"t":10,"r":0.26},{"s":23,"t":12,"r":0.14},{"s":23,"t":14,"r":0.07},{"s":23,"t":19,"r":0.04},{"s":23,"t":26,"r":0.03},
{"s":24,"t":1,"r":0.93},{"s":24,"t":5,"r":0.92},{"s":24,"t":8,"r":0.9},{"s":24,"t":10,"r":0.82},{"s":24,"t":12,"r":0.7},{"s":24,"t":14,"r":0.6},{"s":24,"t":16,"r":0.5},{"s":24,"t":18,"r":0.4},{"s":24,"t":20,"r":0.3},{"s":24,"t":23,"r":0.22},{"s":24,"t":26,"r":0.14},{"s":24,"t":30,"r":0.07},{"s":24,"t":36,"r":0.04},
{"s":25,"t":1,"r":0.93},{"s":25,"t":2,"r":0.91},{"s":25,"t":3,"r":0.84},{"s":25,"t":4,"r":0.7},{"s":25,"t":5,"r":0.56},{"s":25,"t":6,"r":0.42},{"s":25,"t":7,"r":0.28},{"s":25,"t":9,"r":0.14},{"s":25,"t":11,"r":0.06},{"s":25,"t":15,"r":0.03},{"s":25,"t":21,"r":0.02},
{"s":26,"t":1,"r":0.93},{"s":26,"t":3,"r":0.92},{"s":26,"t":4,"r":0.86},{"s":26,"t":5,"r":0.74},{"s":26,"t":6,"r":0.6},{"s":26,"t":7,"r":0.46},{"s":26,"t":8,"r":0.32},{"s":26,"t":10,"r":0.18},{"s":26,"t":12,"r":0.08},{"s":26,"t":16,"r":0.04},{"s":26,"t":22,"r":0.03},
{"s":27,"t":1,"r":0.93},{"s":27,"t":3,"r":0.91},{"s":27,"t":5,"r":0.82},{"s":27,"t":6,"r":0.72},{"s":27,"t":7,"r":0.62},{"s":27,"t":8,"r":0.5},{"s":27,"t":9,"r":0.38},{"s":27,"t":11,"r":0.24},{"s":27,"t":13,"r":0.12},{"s":27,"t":17,"r":0.06},{"s":27,"t":24,"r":0.03},
{"s":28,"t":1,"r":0.93},{"s":28,"t":2,"r":0.92},{"s":28,"t":3,"r":0.88},{"s":28,"t":4,"r":0.78},{"s":28,"t":5,"r":0.66},{"s":28,"t":6,"r":0.54},{"s":28,"t":8,"r":0.4},{"s":28,"t":9,"r":0.28},{"s":28,"t":11,"r":0.15},{"s":28,"t":14,"r":0.07},{"s":28,"t":19,"r":0.04},{"s":28,"t":27,"r":0.03},
{"s":29,"t":1,"r":0.93},{"s":29,"t":4,"r":0.92},{"s":29,"t":5,"r":0.86},{"s":29,"t":6,"r":0.76},{"s":29,"t":8,"r":0.64},{"s":29,"t":9,"r":0.5},{"s":29,"t":10,"r":0.4},{"s":29,"t":12,"r":0.28},{"s":29,"t":14,"r":0.16},{"s":29,"t":18,"r":0.08},{"s":29,"t":24,"r":0.04},{"s":29,"t":32,"r":0.03},
{"s":30,"t":1,"r":0.93},{"s":30,"t":2,"r":0.9},{"s":30,"t":3,"r":0.8},{"s":30,"t":4,"r":0.62},{"s":30,"t":5,"r":0.48},{"s":30,"t":6,"r":0.34},{"s":30,"t":7,"r":0.22},{"s":30,"t":8,"r":0.12},{"s":30,"t":10,"r":0.06},{"s":30,"t":14,"r":0.03},{"s":30,"t":19,"r":0.02}
],
"d": [
{"s":1,"t":1,"r":0.67},{"s":1,"t":2,"r":0.5},{"s":1,"t":3,"r":0.3},{"s":1,"t":4,"r":0.15},{"s":1,"t":5,"r":0.07},{"s":1,"t":7,"r":0.03},{"s":1,"t":9,"r":0.02},
{"s":2,"t":1,"r":0.67},{"s":2,"t":2,"r":0.6},{"s":2,"t":3,"r":0.42},{"s":2,"t":4,"r":0.26},{"s":2,"t":5,"r":0.14},{"s":2,"t":6,"r":0.07},{"s":2,"t":8,"r":0.03},{"s":2,"t":11,"r":0.02},
{"s":3,"t":1,"r":0.67},{"s":3,"t":2,"r":0.64},{"s":3,"t":3,"r":0.5},{"s":3,"t":4,"r":0.36},{"s":3,"t":5,"r":0.22},{"s":3,"t":6,"r":0.12},{"s":3,"t":8,"r":0.05},{"s":3,"t":10,"r":0.03},{"s":3,"t":13,"r":0.02},
{"s":4,"t":1,"r":0.67},{"s":4,"t":3,"r":0.64},{"s":4,"t":4,"r":0.5},{"s":4,"t":5,"r":0.38},{"s":4,"t":6,"r":0.26},{"s":4,"t":7,"r":0.16},{"s":4,"t":9,"r":0.08},{"s":4,"t":11,"r":0.04},{"s":4,"t":14,"r":0.02},
{"s":5,"t":1,"r":0.67},{"s":5,"t":3,"r":0.66},{"s":5,"t":4,"r":0.58},{"s":5,"t":5,"r":0.46},{"s":5,"t":6,"r":0.34},{"s":5,"t":8,"r":0.22},{"s":5,"t":9,"r":0.13},{"s":5,"t":11,"r":0.07},{"s":5,"t":14,"r":0.03},{"s":5,"t":17,"r":0.02},
{"s":6,"t":1,"r":0.67},{"s":6,"t":4,"r":0.66},{"s":6,"t":5,"r":0.56},{"s":6,"t":6,"r":0.46},{"s":6,"t":7,"r":0.36},{"s":6,"t":9,"r":0.26},{"s":6,"t":10,"r":0.17},{"s":6,"t":12,"r":0.09},{"s":6,"t":15,"r":0.04},{"s":6,"t":19,"r":0.02},
{"s":7,"t":1,"r":0.67},{"s":7,"t":5,"r":0.67},{"s":7,"t":6,"r":0.58},{"s":7,"t":7,"r":0.5},{"s":7,"t":9,"r":0.4},{"s":7,"t":10,"r":0.3},{"s":7,"t":12,"r":0.2},{"s":7,"t":14,"r":0.1},{"s":7,"t":17,"r":0.05},{"s":7,"t":22,"r":0.03},
{"s":8,"t":1,"r":0.67},{"s":8,"t":6,"r":0.66},{"s":8,"t":7,"r":0.6},{"s":8,"t":9,"r":0.5},{"s":8,"t":10,"r":0.42},{"s":8,"t":11,"r":0.32},{"s":8,"t":12,"r":0.25},{"s":8,"t":17,"r":0.1},{"s":8,"t":18,"r":0.04},{"s":8,"t":22,"r":0.03},
{"s":9,"t":1,"r":0.67},{"s":9,"t":4,"r":0.66},{"s":9,"t":6,"r":0.55},{"s":9,"t":8,"r":0.44},{"s":9,"t":10,"r":0.34},{"s":9,"t":11,"r":0.26},{"s":9,"t":12,"r":0.2},{"s":9,"t":19,"r":0.06},{"s":9,"t":21,"r":0.03},{"s":9,"t":27,"r":0.03},
{"s":10,"t":1,"r":0.67},{"s":10,"t":2,"r":0.66},{"s":10,"t":3,"r":0.54},{"s":10,"t":4,"r":0.42},{"s":10,"t":5,"r":0.3},{"s":10,"t":6,"r":0.2},{"s":10,"t":7,"r":0.11},{"s":10,"t":9,"r":0.05},{"s":10,"t":12,"r":0.02},
{"s":11,"t":1,"r":0.67},{"s":11,"t":3,"r":0.65},{"s":11,"t":4,"r":0.54},{"s":11,"t":5,"r":0.44},{"s":11,"t":7,"r":0.32},{"s":11,"t":8,"r":0.22},{"s":11,"t":9,"r":0.14},{"s":11,"t":11,"r":0.08},{"s":11,"t":14,"r":0.04},{"s":11,"t":20,"r":0.03},
{"s":12,"t":1,"r":0.67},{"s":12,"t":4,"r":0.67},{"s":12,"t":5,"r":0.6},{"s":12,"t":6,"r":0.5},{"s":12,"t":7,"r":0.4},{"s":12,"t":8,"r":0.3},{"s":12,"t":10,"r":0.2},{"s":12,"t":12,"r":0.12},{"s":12,"t":14,"r":0.06},{"s":12,"t":18,"r":0.03},{"s":12,"t":24,"r":0.03},
{"s":13,"t":1,"r":0.67},{"s":13,"t":5,"r":0.66},{"s":13,"t":7,"r":0.56},{"s":13,"t":8,"r":0.46},{"s":13,"t":9,"r":0.38},{"s":13,"t":11,"r":0.28},{"s":13,"t":12,"r":0.22},{"s":13,"t":14,"r":0.16},{"s":13,"t":16,"r":0.08},{"s":13,"t":20,"r":0.04},{"s":13,"t":26,"r":0.03},
{"s":14,"t":1,"r":0.67},{"s":14,"t":2,"r":0.62},{"s":14,"t":3,"r":0.46},{"s":14,"t":4,"r":0.32},{"s":14,"t":5,"r":0.2},{"s":14,"t":6,"r":0.1},{"s":14,"t":8,"r":0.04},{"s":14,"t":10,"r":0.02},
{"s":15,"t":1,"r":0.67},{"s":15,"t":3,"r":0.66},{"s":15,"t":5,"r":0.52},{"s":15,"t":6,"r":0.4},{"s":15,"t":7,"r":0.3},{"s":15,"t":9,"r":0.2},{"s":15,"t":10,"r":0.14},{"s":15,"t":12,"r":0.08},{"s":15,"t":15,"r":0.04},{"s":15,"t":19,"r":0.02},
{"s":16,"t":1,"r":0.67},{"s":16,"t":2,"r":0.66},{"s":16,"t":4,"r":0.48},{"s":16,"t":5,"r":0.34},{"s":16,"t":6,"r":0.24},{"s":16,"t":7,"r":0.16},{"s":16,"t":9,"r":0.09},{"s":16,"t":11,"r":0.04},{"s":16,"t":15,"r":0.02},
{"s":17,"t":1,"r":0.67},{"s":17,"t":4,"r":0.65},{"s":17,"t":6,"r":0.52},{"s":17,"t":7,"r":0.42},{"s":17,"t":8,"r":0.34},{"s":17,"t":10,"r":0.24},{"s":17,"t":11,"r":0.18},{"s":17,"t":13,"r":0.12},{"s":17,"t":15,"r":0.06},{"s":17,"t":19,"r":0.04},{"s":17,"t":24,"r":0.03},
{"s":18,"t":1,"r":0.67},{"s":18,"t":3,"r":0.66},{"s":18,"t":4,"r":0.6},{"s":18,"t":6,"r":0.48},{"s":18,"t":7,"r":0.36},{"s":18,"t":8,"r":0.26},{"s":18,"t":10,"r":0.16},{"s":18,"t":12,"r":0.08},{"s":18,"t":16,"r":0.04},{"s":18,"t":21,"r":0.02},
{"s":19,"t":1,"r":0.67},{"s":19,"t":5,"r":0.66},{"s":19,"t":6,"r":0.6},{"s":19,"t":8,"r":0.52},{"s":19,"t":9,"r":0.42},{"s":19,"t":10,"r":0.36},{"s":19,"t":11,"r":0.26},{"s":19,"t":13,"r":0.2},{"s":19,"t":14,"r":0.12},{"s":19,"t":16,"r":0.08},{"s":19,"t":17,"r":0.04},{"s":19,"t":22,"r":0.03},
{"s":20,"t":1,"r":0.67},{"s":20,"t":2,"r":0.65},{"s":20,"t":3,"r":0.52},{"s":20,"t":5,"r":0.38},{"s":20,"t":6,"r":0.26},{"s":20,"t":7,"r":0.18},{"s":20,"t":8,"r":0.12},{"s":20,"t":10,"r":0.06},{"s":20,"t":13,"r":0.03},{"s":20,"t":17,"r":0.02}
],
"m1": [{"t":1,"r":0.99},{"t":5,"r":0.985},{"t":8,"r":0.97},{"t":11,"r":0.94},{"t":14,"r":0.9},{"t":16,"r":0.85},{"t":18,"r":0.79},{"t":20,"r":0.71},{"t":22,"r":0.63},{"t":24,"r":0.55},{"t":26,"r":0.47},{"t":28,"r":0.4},{"t":30,"r":0.34},{"t":32,"r":0.29},{"t":35,"r":0.23},{"t":38,"r":0.18},{"t":41,"r":0.14},{"t":44,"r":0.11},{"t":47,"r":0.085},{"t":50,"r":0.065},{"t":55,"r":0.045},{"t":60,"r":0.033},{"t":65,"r":0.027},{"t":70,"r":0.022},{"t":80,"r":0.018},{"t":90,"r":0.016},{"t":100,"r":0.015}],
"m2": [{"t":1,"r":0.99},{"t":3,"r":0.975},{"t":5,"r":0.95},{"t":7,"r":0.91},{"t":9,"r":0.86},{"t":11,"r":0.79},{"t":13,"r":0.7},{"t":15,"r":0.61},{"t":17,"r":0.51},{"t":19,"r":0.43},{"t":21,"r":0.36},{"t":23,"r":0.3},{"t":25,"r":0.26},{"t":28,"r":0.2},{"t":31,"r":0.155},{"t":34,"r":0.12},{"t":37,"r":0.095},{"t":40,"r":0.075},{"t":45,"r":0.05},{"t":50,"r":0.037},{"t":55,"r":0.03},{"t":60,"r":0.025},{"t":70,"r":0.02},{"t":80,"r":0.017},{"t":100,"r":0.014}],
"m3": [{"t":1,"r":0.93},{"t":2,"r":0.87},{"t":3,"r":0.81},{"t":4,"r":0.76},{"t":5,"r":0.7},{"t":6,"r":0.64},{"t":7,"r":0.585},{"t":8,"r":0.53},{"t":9,"r":0.48},{"t":10,"r":0.43},{"t":11,"r":0.385},{"t":12,"r":0.34},{"t":13,"r":0.3},{"t":14,"r":0.26},{"t":15,"r":0.22},{"t":17,"r":0.17},{"t":19,"r":0.13},{"t":21,"r":0.1},{"t":23,"r":0.075},{"t":26,"r":0.05},{"t":30,"r":0.033},{"t":35,"r":0.024},{"t":40,"r":0.02},{"t":50,"r":0.018},{"t":70,"r":0.016},{"t":100,"r":0.015}],
"m4": [{"t":1,"r":0.67},{"t":2,"r":0.58},{"t":3,"r":0.46},{"t":4,"r":0.37},{"t":5,"r":0.3},{"t":6,"r":0.24},{"t":7,"r":0.19},{"t":8,"r":0.15},{"t":9,"r":0.12},{"t":10,"r":0.095},{"t":11,"r":0.075},{"t":12,"r":0.06},{"t":14,"r":0.04},{"t":16,"r":0.03},{"t":18,"r":0.022},{"t":22,"r":0.018},{"t":30,"r":0.016},{"t":50,"r":0.015},{"t":100,"r":0.015}]
},
"concat": [
{"title": {"text": "Current state (0, 0, 0 ,0)"}, "width": 298, "height": 104,
 "layer": [
  {"data": {"name": "a"}, "mark": {"type": "line", "interpolate": "step-after", "strokeWidth": 1, "opacity": 0.9},
   "encoding": {"x": {"field": "t", "type": "quantitative", "title": "time", "scale": {"domain": [-4, 104], "nice": false, "zero": false}, "axis": {"values": [0,20,40,60,80,100]}},
     "y": {"field": "r", "type": "quantitative", "title": "reliability", "scale": {"domain": [-0.04, 1.04], "nice": false, "zero": false}, "axis": {"values": [0,0.2,0.4,0.6,0.8,1], "labelExpr": "(datum.value < 0.01 || abs(datum.value-0.4) < 0.01 || abs(datum.value-0.8) < 0.01) ? format(datum.value, '.1f') : ''"}},
     "color": {"field": "s", "type": "nominal", "legend": null, "scale": {"range": ["#FF0000","#FF00FF","#0000FF","#00FF00","#FF8C00","#00FFFF","#8A2BE2","#FF0080","#1E90FF","#7CFC00","#FFD700","#00FA9A","#FF40C0","#4060FF","#E00030","#40E0D0"]}}}},
  {"data": {"name": "m1"}, "mark": {"type": "line", "color": "black", "strokeWidth": 5, "interpolate": "monotone", "strokeCap": "round"},
   "encoding": {"x": {"field": "t", "type": "quantitative"}, "y": {"field": "r", "type": "quantitative"}}}
 ]},
{"title": {"text": "Current state (1, 0, 1 ,0)"}, "width": 298, "height": 104,
 "layer": [
  {"data": {"name": "b"}, "mark": {"type": "line", "interpolate": "step-after", "strokeWidth": 1, "opacity": 0.9},
   "encoding": {"x": {"field": "t", "type": "quantitative", "title": "time", "scale": {"domain": [-4, 104], "nice": false, "zero": false}, "axis": {"values": [0,20,40,60,80,100]}},
     "y": {"field": "r", "type": "quantitative", "title": "reliability", "scale": {"domain": [-0.04, 1.04], "nice": false, "zero": false}, "axis": {"values": [0,0.2,0.4,0.6,0.8,1], "labelExpr": "(datum.value < 0.01 || abs(datum.value-0.4) < 0.01 || abs(datum.value-0.8) < 0.01) ? format(datum.value, '.1f') : ''"}},
     "color": {"field": "s", "type": "nominal", "legend": null, "scale": {"range": ["#FF0000","#FF00FF","#0000FF","#00FF00","#FF8C00","#00FFFF","#8A2BE2","#FF0080","#1E90FF","#7CFC00","#FFD700","#00FA9A","#FF40C0","#4060FF","#E00030","#40E0D0"]}}}},
  {"data": {"name": "m2"}, "mark": {"type": "line", "color": "black", "strokeWidth": 5, "interpolate": "monotone", "strokeCap": "round"},
   "encoding": {"x": {"field": "t", "type": "quantitative"}, "y": {"field": "r", "type": "quantitative"}}}
 ]},
{"title": {"text": "Current state (2, 1, 2 ,1)"}, "width": 298, "height": 104,
 "layer": [
  {"data": {"name": "c"}, "mark": {"type": "line", "interpolate": "step-after", "strokeWidth": 1, "opacity": 0.9},
   "encoding": {"x": {"field": "t", "type": "quantitative", "title": "time", "scale": {"domain": [-4, 104], "nice": false, "zero": false}, "axis": {"values": [0,20,40,60,80,100]}},
     "y": {"field": "r", "type": "quantitative", "title": "reliability", "scale": {"domain": [-0.04, 1.04], "nice": false, "zero": false}, "axis": {"values": [0,0.2,0.4,0.6,0.8,1], "labelExpr": "(datum.value < 0.01 || abs(datum.value-0.4) < 0.01 || abs(datum.value-0.8) < 0.01) ? format(datum.value, '.1f') : ''"}},
     "color": {"field": "s", "type": "nominal", "legend": null, "scale": {"range": ["#FF0000","#FF00FF","#0000FF","#00FF00","#FF8C00","#00FFFF","#8A2BE2","#FF0080","#1E90FF","#7CFC00","#FFD700","#00FA9A","#FF40C0","#4060FF","#E00030","#40E0D0"]}}}},
  {"data": {"name": "m3"}, "mark": {"type": "line", "color": "black", "strokeWidth": 5, "interpolate": "monotone", "strokeCap": "round"},
   "encoding": {"x": {"field": "t", "type": "quantitative"}, "y": {"field": "r", "type": "quantitative"}}}
 ]},
{"title": {"text": "Current state (3, 2, 3 ,2)"}, "width": 298, "height": 104,
 "layer": [
  {"data": {"name": "d"}, "mark": {"type": "line", "interpolate": "step-after", "strokeWidth": 1, "opacity": 0.9},
   "encoding": {"x": {"field": "t", "type": "quantitative", "title": "time", "scale": {"domain": [-4, 104], "nice": false, "zero": false}, "axis": {"values": [0,20,40,60,80,100]}},
     "y": {"field": "r", "type": "quantitative", "title": "reliability", "scale": {"domain": [-0.04, 1.04], "nice": false, "zero": false}, "axis": {"values": [0,0.2,0.4,0.6,0.8,1], "labelExpr": "(datum.value < 0.01 || abs(datum.value-0.4) < 0.01 || abs(datum.value-0.8) < 0.01) ? format(datum.value, '.1f') : ''"}},
     "color": {"field": "s", "type": "nominal", "legend": null, "scale": {"range": ["#FF0000","#FF00FF","#0000FF","#00FF00","#FF8C00","#00FFFF","#8A2BE2","#FF0080","#1E90FF","#7CFC00","#FFD700","#00FA9A","#FF40C0","#4060FF","#E00030","#40E0D0"]}}}},
  {"data": {"name": "m4"}, "mark": {"type": "line", "color": "black", "strokeWidth": 5, "interpolate": "monotone", "strokeCap": "round"},
   "encoding": {"x": {"field": "t", "type": "quantitative"}, "y": {"field": "r", "type": "quantitative"}}}
 ]}
]
}
